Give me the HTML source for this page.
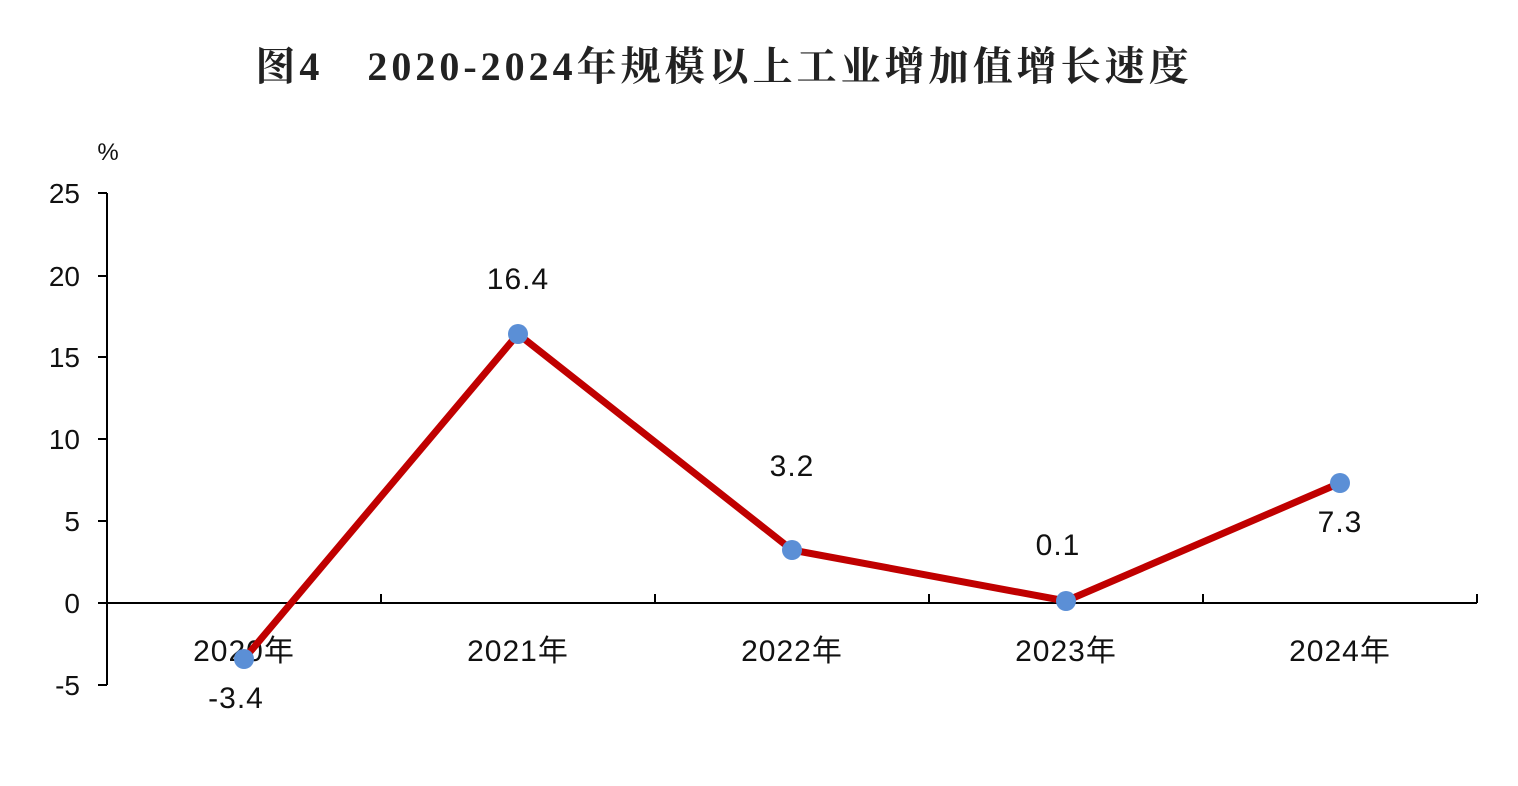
<!DOCTYPE html>
<html><head><meta charset="utf-8"><style>
html,body{margin:0;padding:0;background:#fff;}
</style></head><body>
<svg width="1518" height="786" xmlns="http://www.w3.org/2000/svg" style="display:block">
<rect width="1518" height="786" fill="#fff"/>
<text x="724" y="80" text-anchor="middle" font-family="'Liberation Serif','Noto Serif CJK SC',serif" font-weight="bold" font-size="40" letter-spacing="4" fill="#222">图4　2020-2024年规模以上工业增加值增长速度</text>
<g font-family="'Liberation Sans','Noto Sans CJK SC',sans-serif" font-size="28" fill="#111">
<text x="108" y="160" text-anchor="middle" font-size="24">%</text>
<text x="80" y="203" text-anchor="end">25</text>
<text x="80" y="286" text-anchor="end">20</text>
<text x="80" y="367" text-anchor="end">15</text>
<text x="80" y="449" text-anchor="end">10</text>
<text x="80" y="531" text-anchor="end">5</text>
<text x="80" y="613" text-anchor="end">0</text>
<text x="80" y="695" text-anchor="end">-5</text>
</g>
<g font-family="'Liberation Sans','Noto Sans CJK SC',sans-serif" font-size="30" fill="#111" text-anchor="middle" letter-spacing="1">
<text x="244" y="661">2020年</text>
<text x="518" y="661">2021年</text>
<text x="792" y="661">2022年</text>
<text x="1066" y="661">2023年</text>
<text x="1340" y="661">2024年</text>
</g>
<g stroke="#000" stroke-width="2" fill="none">
<line x1="107" y1="193" x2="107" y2="685"/>
<line x1="98" y1="193" x2="107" y2="193"/>
<line x1="98" y1="276" x2="107" y2="276"/>
<line x1="98" y1="357" x2="107" y2="357"/>
<line x1="98" y1="439" x2="107" y2="439"/>
<line x1="98" y1="521" x2="107" y2="521"/>
<line x1="98" y1="603" x2="107" y2="603"/>
<line x1="98" y1="685" x2="107" y2="685"/>
<line x1="107" y1="603" x2="1477" y2="603"/>
<line x1="381" y1="603" x2="381" y2="594"/>
<line x1="655" y1="603" x2="655" y2="594"/>
<line x1="929" y1="603" x2="929" y2="594"/>
<line x1="1203" y1="603" x2="1203" y2="594"/>
<line x1="1477" y1="603" x2="1477" y2="594"/>
</g>
<polyline points="244,659 518,334 792,550 1066,601 1340,483" fill="none" stroke="#c00000" stroke-width="7" stroke-linejoin="round"/>
<g fill="#5b8fd6">
<circle cx="244" cy="659" r="10"/><circle cx="518" cy="334" r="10"/><circle cx="792" cy="550" r="10"/><circle cx="1066" cy="601" r="10"/><circle cx="1340" cy="483" r="10"/>
</g>
<g font-family="'Liberation Sans',sans-serif" font-size="30" fill="#111" text-anchor="middle" letter-spacing="1">
<text x="236" y="708">-3.4</text>
<text x="518" y="289">16.4</text>
<text x="792" y="476">3.2</text>
<text x="1058" y="555">0.1</text>
<text x="1340" y="532">7.3</text>
</g>
</svg>
</body></html>
